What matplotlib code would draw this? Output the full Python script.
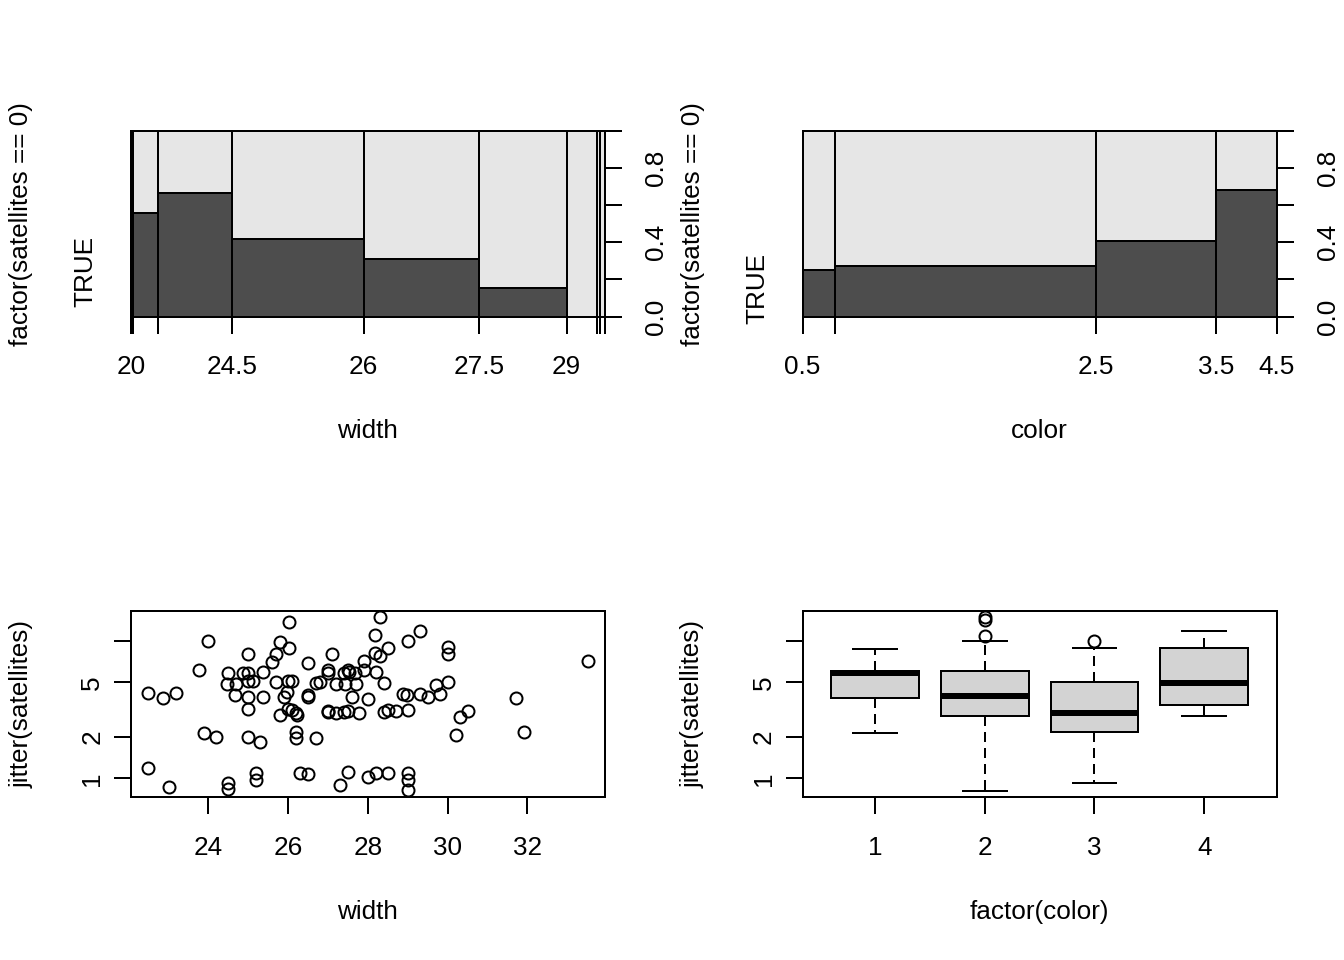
import numpy as np
import matplotlib
matplotlib.use("Agg")
import matplotlib.pyplot as plt
from matplotlib.ticker import NullLocator

plt.rcParams['font.family'] = ['Liberation Sans', 'DejaVu Sans']
plt.rcParams['font.size'] = 9.8

# spineplot of factor(satellites == 0) by width (hist breaks)
width_breaks = [20, 21.5, 23, 24.5, 26, 27.5, 29, 30.5, 32, 33.5]
width_n = [1, 9, 27, 48, 42, 32, 11, 1, 2]
width_none = [1, 5, 18, 20, 13, 5, 0, 0, 0]
width_ticklabels = ['20', '', '', '24.5', '26', '27.5', '29', '', '', '']

# spineplot by color
color_breaks = [0.5, 1.5, 2.5, 3.5, 4.5]
color_n = [12, 95, 44, 22]
color_none = [3, 26, 18, 15]
color_ticklabels = ['0.5', '', '2.5', '3.5', '4.5']

# crabs with satellites > 0: width vs jitter(satellites)
sc_width = [26.01, 28.31, 23.98, 25.80, 26.01, 28.19, 29.00, 29.30, 24.99, 25.69,
            25.59, 27.10, 28.19, 28.31, 28.51, 30.01, 30.01, 33.52, 23.77, 24.49,
            24.88, 24.99, 25.38, 26.50, 26.99, 26.99, 27.39, 27.50, 27.52, 27.69,
            27.90, 27.90, 28.21, 24.46, 24.69, 24.99, 25.11, 25.69, 25.99, 26.09,
            26.70, 26.81, 27.20, 27.43, 27.70, 28.40, 29.70, 30.01, 22.49, 22.87,
            23.19, 24.67, 24.99, 25.38, 25.89, 25.97, 26.50, 26.50, 27.60, 28.00,
            28.88, 28.98, 29.30, 29.50, 29.80, 31.71, 24.99, 25.80, 25.99, 26.09,
            26.20, 26.22, 26.99, 27.01, 27.21, 27.39, 27.50, 27.79, 28.40, 28.51,
            28.71, 29.00, 30.30, 30.51, 23.89, 24.19, 24.99, 25.30, 26.20, 26.20,
            26.71, 30.22, 31.92, 22.49, 23.00, 24.49, 24.49, 25.19, 25.19, 26.30,
            26.50, 27.29, 27.50, 28.00, 28.21, 28.51, 29.00, 29.00, 29.00]
sc_sat = [13.9, 15.1, 10.1, 9.83, 8.88, 11.1, 10.05, 11.9, 8.03, 8.03,
          7.10, 8.08, 8.17, 7.85, 8.88, 9.14, 8.08, 7.18, 6.17, 5.90,
          5.90, 5.90, 6.00, 6.90, 6.17, 5.90, 5.90, 6.17, 6.00, 5.90,
          7.18, 6.17, 6.00, 4.85, 4.85, 5.13, 5.13, 5.07, 5.13, 5.13,
          4.93, 5.07, 4.85, 4.85, 4.85, 4.99, 4.80, 5.07, 4.17, 3.83,
          4.17, 4.06, 3.94, 3.90, 3.94, 4.29, 4.06, 3.94, 3.90, 3.79,
          4.10, 4.06, 4.12, 3.94, 4.12, 3.88, 3.19, 2.90, 3.19, 3.15,
          2.98, 2.90, 3.10, 3.06, 3.01, 3.06, 3.10, 3.01, 3.06, 3.15,
          3.12, 3.15, 2.82, 3.10, 2.13, 2.01, 2.01, 1.85, 2.19, 1.96,
          1.98, 2.07, 2.19, 1.18, 0.87, 0.92, 0.84, 1.09, 0.98, 1.09,
          1.07, 0.90, 1.11, 1.02, 1.10, 1.09, 1.09, 0.98, 0.82]

# boxplot of jitter(satellites) by factor(color)
box_labels = ['1', '2', '3', '4']
box_whislo = [2.13, 0.81, 0.92, 2.85]
box_q1 = [3.83, 2.87, 2.17, 3.43]
box_med = [5.87, 4.01, 3.01, 4.93]
box_q3 = [6.07, 6.07, 5.07, 8.88]
box_whishi = [8.79, 10.04, 8.99, 11.96]
box_fliers = [[], [15.1, 14.3, 11.0], [10.04], []]

DARK, LIGHT, BOXFILL = '#4D4D4D', '#E6E6E6', '#D3D3D3'
LW = 0.75
TICK = 6.2
MS = 4.5
W, H = 1344, 960


def place(l, r, t, b):
    return [l / W, 1 - b / H, (r - l) / W, (b - t) / H]


def base_labels(labels, rot):
    for t in labels:
        t.set_rotation(rot)
        t.set_rotation_mode('anchor')
        t.set_horizontalalignment('center')
        t.set_verticalalignment('baseline')


def finish(ax, xlab, ylab):
    ax.set_xlabel(xlab)
    ax.xaxis.label.set_verticalalignment('baseline')
    ax.xaxis.set_label_coords(0.5, -0.65)
    ax.set_ylabel(ylab)
    ax.yaxis.set_label_coords(-0.2054, 0.5)


def spine(ax, n, none, breaks, ticklabels, xlab, true_y):
    n = np.array(n, float)
    p = np.array(none) / n
    edges = np.concatenate([[0], np.cumsum(n)]) / n.sum()
    w = np.diff(edges)
    ax.bar(edges[:-1], p, w, align='edge', color=DARK, edgecolor='black',
           linewidth=LW, clip_on=False)
    ax.bar(edges[:-1], 1 - p, w, bottom=p, align='edge', color=LIGHT,
           edgecolor='black', linewidth=LW, clip_on=False)
    ax.set_xlim(0, 1)
    ax.set_ylim(0, 1)
    for s in ['top', 'left']:
        ax.spines[s].set_visible(False)
    for s in ['bottom', 'right']:
        ax.spines[s].set_linewidth(LW)
    ax.set_xticks(edges, labels=ticklabels)
    ax.yaxis.tick_right()
    ax.set_yticks(np.arange(0, 1.01, 0.2),
                  labels=['0.0', '', '0.4', '', '0.8', ''])
    ax.tick_params(axis='x', length=TICK, width=LW, pad=15.4)
    ax.tick_params(axis='y', length=TICK, width=LW, pad=15.5)
    for t in ax.get_xticklabels():
        t.set_verticalalignment('baseline')
    base_labels(ax.get_yticklabels(), 90)
    ax.text(-0.081, true_y, 'TRUE', transform=ax.get_yaxis_transform(),
            rotation=90, rotation_mode='anchor', ha='center', va='baseline')
    finish(ax, xlab, 'factor(satellites == 0)')
    ax.yaxis.set_label_position('left')


def log_y(ax):
    ax.set_yscale('log')
    ax.set_ylim(0.727, 16.7)
    ax.set_yticks([1, 2, 5, 10], labels=['1', '2', '5', ''])
    ax.yaxis.set_minor_locator(NullLocator())
    for s in ax.spines.values():
        s.set_linewidth(LW)
    ax.tick_params(axis='x', length=TICK, width=LW, pad=15.4)
    ax.tick_params(axis='y', length=TICK, width=LW, pad=5.6)
    for t in ax.get_xticklabels():
        t.set_verticalalignment('baseline')
    base_labels(ax.get_yticklabels(), 90)


fig = plt.figure(figsize=(7, 5), dpi=192)

ax1 = fig.add_axes(place(130.7, 605, 130.7, 316.7))
spine(ax1, width_n, width_none, width_breaks, width_ticklabels, 'width', 0.242)

ax2 = fig.add_axes(place(802.5, 1276.7, 130.7, 316.7))
spine(ax2, color_n, color_none, color_breaks, color_ticklabels, 'color', 0.149)

ax3 = fig.add_axes(place(130.7, 605, 610.7, 797.3))
ax3.plot(sc_width, sc_sat, 'o', mfc='none', mec='black', ms=MS, mew=LW)
ax3.set_xlim(22.05, 33.95)
ax3.set_xticks([24, 26, 28, 30, 32])
log_y(ax3)
finish(ax3, 'width', 'jitter(satellites)')

ax4 = fig.add_axes(place(802.5, 1276.7, 610.7, 797.3))
stats = [dict(label=lab, whislo=a, q1=b, med=c, q3=d, whishi=e, fliers=f)
         for lab, a, b, c, d, e, f in zip(box_labels, box_whislo, box_q1, box_med,
                                          box_q3, box_whishi, box_fliers)]
ax4.bxp(stats, positions=[1, 2, 3, 4], widths=0.8, capwidths=0.4,
        patch_artist=True,
        boxprops=dict(facecolor=BOXFILL, edgecolor='black', linewidth=LW),
        medianprops=dict(color='black', linewidth=2.25, solid_capstyle='butt'),
        whiskerprops=dict(color='black', linewidth=LW, linestyle=(0, (5, 3))),
        capprops=dict(color='black', linewidth=LW),
        flierprops=dict(marker='o', markerfacecolor='none', markeredgecolor='black',
                        markersize=MS, markeredgewidth=LW))
ax4.set_xlim(0.34, 4.66)
log_y(ax4)
finish(ax4, 'factor(color)', 'jitter(satellites)')

fig.savefig('out.png', dpi=192)
